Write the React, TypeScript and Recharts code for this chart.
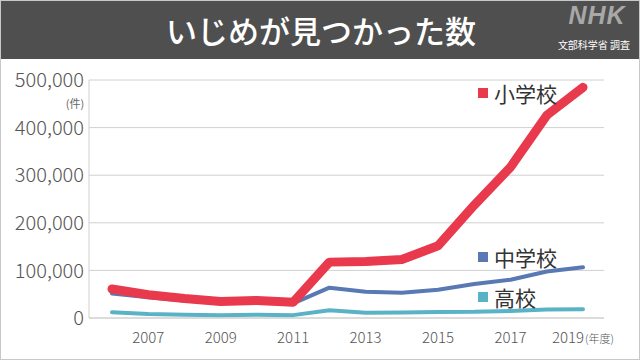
import React from "react";
import { LineChart, Line, XAxis, YAxis, CartesianGrid } from "recharts";

const years = [2006, 2007, 2008, 2009, 2010, 2011, 2012, 2013, 2014, 2015, 2016, 2017, 2018, 2019];
const elementary = [60897, 48896, 40807, 34766, 36909, 33124, 117384, 118748, 122734, 151692, 237256, 317121, 425844, 484545];
const juniorHigh = [51310, 43505, 36795, 32111, 33323, 30749, 63634, 55248, 52971, 59502, 71309, 80424, 97704, 106524];
const highSchool = [12307, 8355, 6737, 5642, 7018, 6020, 16274, 11039, 11404, 12664, 12874, 14789, 17709, 18352];
const yTicks = [0, 100000, 200000, 300000, 400000, 500000];
const xTicks = [2007, 2009, 2011, 2013, 2015, 2017, 2019];
const seriesNames = ["小学校", "中学校", "高校"];

const data = years.map((y, i) => ({
  year: y,
  elementary: elementary[i],
  juniorHigh: juniorHigh[i],
  highSchool: highSchool[i],
}));

const FONT = '"Noto Sans CJK JP", "Noto Sans", sans-serif';
const RED = "#E8394D";
const BLUE = "#5879B4";
const TEAL = "#5AB2C6";

const XTick = (props: any) => {
  const { x, y, payload } = props;
  const last = payload.value === 2019;
  return (
    <text x={x} y={y} dy="0.71em" textAnchor="middle" fontFamily={FONT} fontWeight={300} fontSize={15} fill="#555">
      {payload.value}
      {last ? (
        <tspan fontSize={11} dx={1}>
          (年度)
        </tspan>
      ) : null}
    </text>
  );
};

const fmt = (v: number) => v.toLocaleString("en-US");

const Legend = ({ top, color, label }: { top: number; color: string; label: string }) => (
  <div style={{ position: "absolute", left: 477, top: top - 12, height: 24, display: "flex", alignItems: "center" }}>
    <div style={{ width: 10, height: 10, background: color, marginRight: 6 }} />
    <div style={{ fontFamily: FONT, fontSize: 21, lineHeight: "24px", color: "#333" }}>{label}</div>
  </div>
);

export default function App() {
  return (
    <div
      style={{
        position: "absolute",
        left: 0,
        top: 0,
        width: 640,
        height: 360,
        background: "#fff",
        boxSizing: "border-box",
        border: "1px solid #c8c8c8",
        overflow: "hidden",
      }}
    >
      <div
        style={{
          position: "absolute",
          left: 0,
          top: 0,
          width: 640,
          height: 58,
          background: "#4f4f4f",
        }}
      />
      <div
        style={{
          position: "absolute",
          left: 0,
          top: 8,
          width: 640,
          textAlign: "center",
          fontFamily: FONT,
          fontSize: 31,
          fontWeight: 500,
          lineHeight: "42px",
          color: "#fff",
        }}
      >
        いじめが見つかった数
      </div>
      <div
        style={{
          position: "absolute",
          left: 556,
          top: 0,
          width: 80,
          textAlign: "center",
          fontFamily: '"Liberation Sans", sans-serif',
          fontWeight: "bold",
          fontStyle: "italic",
          fontSize: 25,
          lineHeight: "28px",
          letterSpacing: 1,
          color: "#a8a8a8",
        }}
      >
        NHK
      </div>
      <div
        style={{
          position: "absolute",
          left: 552,
          top: 37,
          width: 82,
          textAlign: "center",
          fontFamily: FONT,
          fontSize: 10,
          lineHeight: "14px",
          color: "#fff",
        }}
      >
        文部科学省 調査
      </div>
      <div style={{ position: "absolute", left: 0, top: 0 }}>
        <LineChart width={638} height={358} data={data} margin={{ top: 79, right: 35, bottom: 11, left: 0 }}>
          <CartesianGrid vertical={false} stroke="#d0d0d0" strokeWidth={1} />
          <XAxis
            dataKey="year"
            type="number"
            domain={[2006, 2019]}
            ticks={xTicks}
            padding={{ left: 23, right: 21 }}
            tick={<XTick />}
            tickLine={false}
            tickSize={0}
            tickMargin={14}
            axisLine={{ stroke: "#d0d0d0" }}
            height={30}
          />
          <YAxis
            domain={[0, 500000]}
            ticks={yTicks}
            tickFormatter={fmt}
            tickLine={false}
            tickSize={0}
            tickMargin={5}
            axisLine={{ stroke: "#d0d0d0" }}
            width={88}
            tick={{ fontFamily: FONT, fontSize: 20, fontWeight: 300, fill: "#555" }}
            interval={0}
          />
          <Line type="linear" dataKey="highSchool" stroke={TEAL} strokeWidth={4} dot={false} isAnimationActive={false} strokeLinecap="round" strokeLinejoin="round" />
          <Line type="linear" dataKey="juniorHigh" stroke={BLUE} strokeWidth={4} dot={false} isAnimationActive={false} strokeLinecap="round" strokeLinejoin="round" />
          <Line type="linear" dataKey="elementary" stroke={RED} strokeWidth={9} dot={false} isAnimationActive={false} strokeLinecap="round" strokeLinejoin="round" />
        </LineChart>
      </div>
      <div
        style={{
          position: "absolute",
          left: 60,
          top: 95,
          width: 28,
          textAlign: "center",
          fontFamily: FONT,
          fontSize: 11,
          lineHeight: "14px",
          color: "#666",
        }}
      >
        (件)
      </div>
      <Legend top={92} color={RED} label={seriesNames[0]} />
      <Legend top={256} color={BLUE} label={seriesNames[1]} />
      <Legend top={296} color={TEAL} label={seriesNames[2]} />
    </div>
  );
}
